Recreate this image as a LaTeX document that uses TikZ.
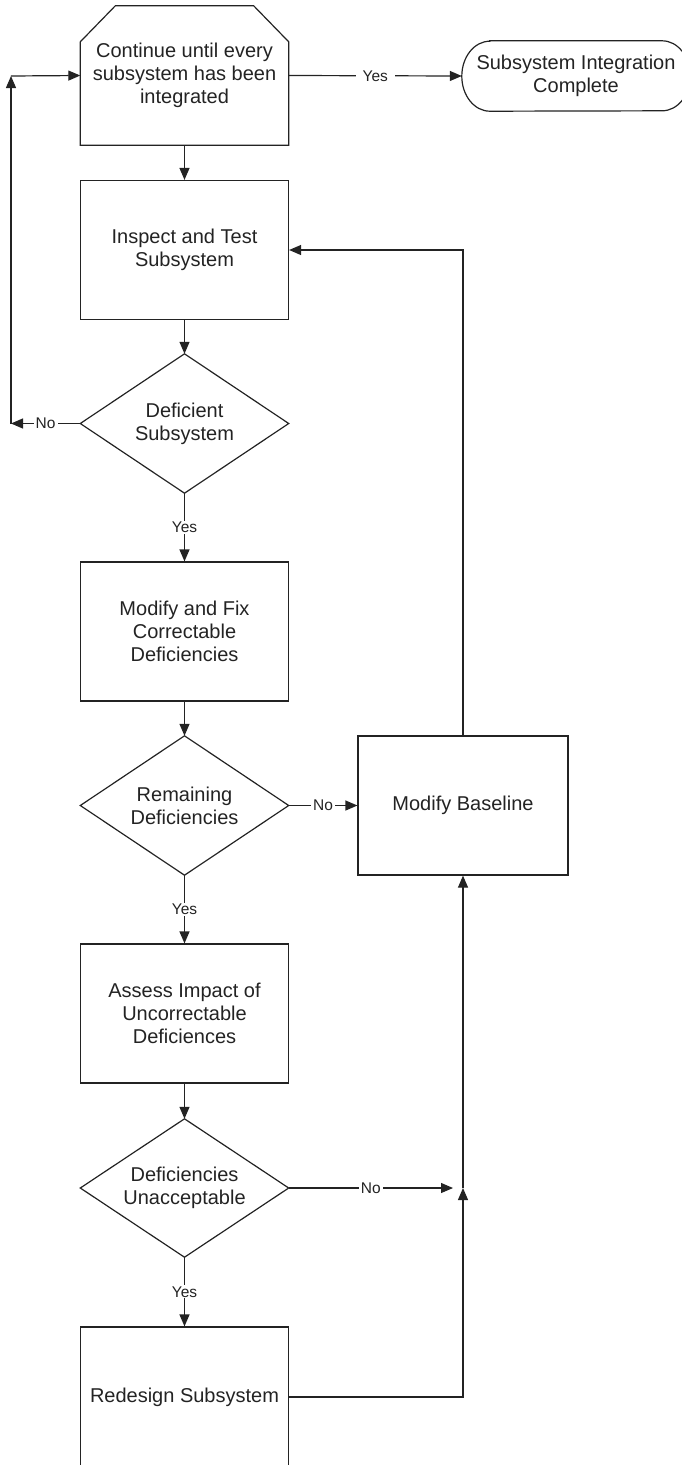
\documentclass[tikz,border=0pt]{standalone}
\usepackage{fontspec}
\setmainfont{Liberation Sans}
\usetikzlibrary{arrows.meta,calc}
\definecolor{ink}{RGB}{35,35,35}

\begin{document}
\begin{tikzpicture}[x=1pt,y=-1pt,
  every node/.style={text=ink},
  line/.style={draw=ink,line width=1.2pt},
  arr/.style={line,-{Triangle[length=12pt,width=10pt]}},
  frame/.style={minimum width=208pt,minimum height=139pt,inner sep=0pt,
    align=center,font=\fontsize{20}{23}\selectfont},
  stepbox/.style={frame,draw=ink,line width=1.2pt},
  lbl/.style={fill=white,inner ysep=1pt,inner xsep=2pt,
    font=\fontsize{15.5}{17}\selectfont},
  widelbl/.style={lbl,inner xsep=7pt}]
\useasboundingbox (0,0) rectangle (681,1465);

% loop head with chamfered top corners
\node[frame] (cont) at (184.5,75.5) {Continue until every\\subsystem has been\\integrated};
\draw[line] (cont.south west) -- ($(cont.north west)+(0,36)$)
  -- ($(cont.north west)+(35,0)$) -- ($(cont.north east)+(-35,0)$)
  -- ($(cont.north east)+(0,36)$) -- (cont.south east) -- cycle;

% terminator
\node[frame,minimum width=228pt,minimum height=70pt] (done) at (576,76)
  {Subsystem Integration\\Complete};
\draw[line] ($(done.north west)+(28,0)$) -- ($(done.north east)+(-28,0)$)
  arc[start angle=90,end angle=-90,x radius=28pt,y radius=35pt]
  -- ($(done.south west)+(28,0)$)
  arc[start angle=270,end angle=90,x radius=28pt,y radius=35pt] -- cycle;

% process boxes
\node[stepbox] (inspect) at (184.5,250) {Inspect and Test\\Subsystem};
\node[stepbox] (fix) at (184.5,631.5) {Modify and Fix\\Correctable\\Deficiencies};
\node[stepbox] (assess) at (184.5,1013.5) {Assess Impact of\\Uncorrectable\\Deficiences};
\node[stepbox,minimum height=140pt] (redesign) at (184.5,1397) {Redesign Subsystem};
\node[stepbox,minimum width=210pt] (baseline) at (463,805.5) {Modify Baseline};

% decisions
\node[frame] (d1) at (184.5,423.5) {Deficient\\Subsystem};
\node[frame] (d2) at (184.5,805.5) {Remaining\\Deficiencies};
\node[frame,minimum height=138pt] (d3) at (184.5,1188) {Deficiencies\\Unacceptable};
\foreach \d in {d1,d2,d3}
  \draw[line] (\d.north) -- (\d.east) -- (\d.south) -- (\d.west) -- cycle;

% junction points
\coordinate (lc) at (11,423.5);
\coordinate (lt) at (11,76);
\coordinate (rj) at (463,1188);
\coordinate (rt) at (453,1188);

% main flow
\draw[arr] (cont.east) -- node[widelbl]{Yes} (done.west);
\draw[arr] (cont.south) -- (inspect.north);
\draw[arr] (inspect.south) -- (d1.north);
\draw[arr] (d1.south) -- node[lbl]{Yes} (fix.north);
\draw[arr] (fix.south) -- (d2.north);
\draw[arr] (d2.south) -- node[lbl]{Yes} (assess.north);
\draw[arr] (assess.south) -- (d3.north);
\draw[arr] (d3.south) -- node[lbl]{Yes} (redesign.north);

% left return loop
\draw[arr] (d1.west) -- node[lbl]{No} (lc);
\draw[arr] (lc) -- (lt);
\draw[arr] (lt) -- (cont.west);

% right side
\draw[arr] (d2.east) -- node[lbl]{No} (baseline.west);
\draw[arr] (baseline.north) |- (inspect.east);
\draw[arr] (d3.east) -- node[lbl]{No} (rt);
\draw[arr] (redesign.east) -| (rj);
\draw[arr] (rj) -- (baseline.south);
\end{tikzpicture}
\end{document}
